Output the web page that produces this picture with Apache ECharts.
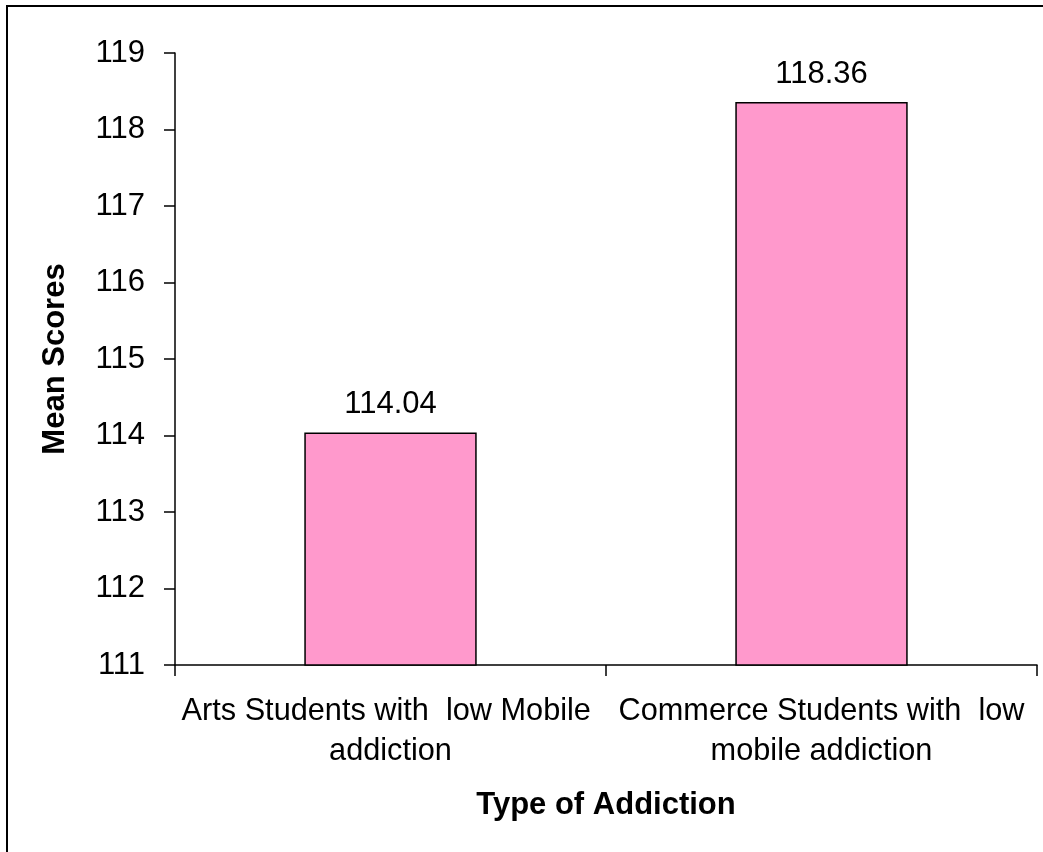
<!DOCTYPE html>
<html>
<head>
<meta charset="utf-8">
<script src="https://cdn.jsdelivr.net/npm/echarts@6/dist/echarts.min.js"></script>
<style>
html,body{margin:0;padding:0;background:#fff;}
#chart{width:1043px;height:852px;}
</style>
</head>
<body>
<div id="chart"></div>
<script>
const categories = ['Arts Students with  low Mobile \naddiction', 'Commerce Students with  low\nmobile addiction'];
const meanScores = [114.04, 118.36];
const yTitle = 'Mean Scores';
const xTitle = 'Type of Addiction';

const FONT = '"Liberation Sans", Arial, sans-serif';
const chart = echarts.init(document.getElementById('chart'), null, {renderer: 'canvas'});
chart.setOption({
  animation: false,
  backgroundColor: '#fff',
  graphic: [{
    type: 'rect',
    shape: {x: 7, y: 6, width: 1100, height: 900},
    style: {fill: 'none', stroke: '#000', lineWidth: 2},
    silent: true
  }],
  grid: {left: 175, top: 53, right: 6, bottom: 187, containLabel: false},
  xAxis: {
    type: 'category',
    data: categories,
    name: xTitle,
    nameLocation: 'middle',
    nameGap: 125,
    nameTextStyle: {fontFamily: FONT, fontSize: 31, fontWeight: 'bold', color: '#000'},
    axisLine: {lineStyle: {color: '#000', width: 1.5}},
    axisTick: {show: true, length: 11, lineStyle: {color: '#000', width: 1.5}},
    axisLabel: {interval: 0, margin: 27, fontFamily: FONT, fontSize: 30.7, color: '#000', lineHeight: 40, align: 'center'},
    splitLine: {show: false}
  },
  yAxis: {
    type: 'value',
    min: 111, max: 119, interval: 1,
    name: yTitle,
    nameLocation: 'middle',
    nameGap: 104,
    nameRotate: 90,
    nameTextStyle: {fontFamily: FONT, fontSize: 31, fontWeight: 'bold', color: '#000'},
    axisLine: {show: true, lineStyle: {color: '#000', width: 1.5}},
    axisTick: {show: true, length: 11, lineStyle: {color: '#000', width: 1.5}},
    axisLabel: {margin: 30, fontFamily: FONT, fontSize: 31, color: '#000'},
    splitLine: {show: false}
  },
  series: [{
    type: 'bar',
    data: meanScores,
    barWidth: '40%',
    itemStyle: {color: '#FF99CC', borderColor: '#000', borderWidth: 1.5},
    label: {show: true, position: 'top', distance: 12, fontFamily: FONT, fontSize: 31, color: '#000',
      formatter: p => p.value.toFixed(2)}
  }]
});
</script>
</body>
</html>
